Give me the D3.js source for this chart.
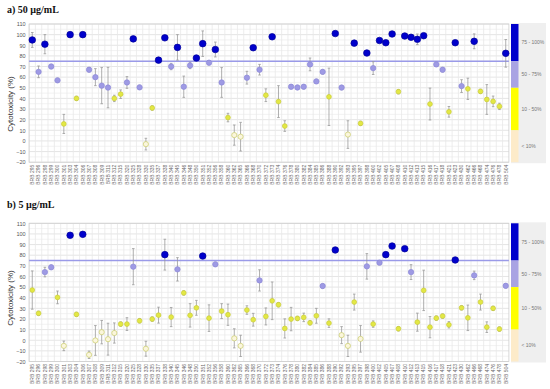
<!DOCTYPE html>
<html><head><meta charset="utf-8">
<script src="https://cdn.jsdelivr.net/npm/d3@7"></script>
<style>body{margin:0;background:#fff}svg{display:block}</style>
</head><body><div id="chart"></div>
<script>
// ---------- data ----------
const strainIds = [295,296,298,299,300,301,303,304,306,307,308,309,311,312,315,320,325,328,330,335,337,338,340,345,346,348,350,351,352,356,358,360,362,365,366,368,370,372,373,374,376,378,380,382,384,385,386,388,390,392,393,395,397,398,400,402,405,407,408,410,412,413,415,416,417,418,421,423,430,462,466,468,474,476,478,504];
const strainLabels = strainIds.map(n => "BRB " + n);

const cyto50 = [95,65,91,70,57,16,100,40,100,67,60,52,50.2,40,44,55,96,50.4,-3,31,76,97,70,88,51,71,78,91.5,73.6,86,55,22,5.5,4,59.5,87.7,67,43,98,37,14,51,50.3,51,72,56,65,41.5,101,50.2,6,92,16.5,82.7,68.5,94.5,92.4,100.6,46.3,98.7,97.5,95.6,99,34.7,72,67,27.4,92.4,51.6,49,93.7,46.6,39,37.2,32.5,82.4];
const err50  = [7,5.5,9,2,2,9,1,2,1,2,8,17,19,3,4,5.5,2,2,5.5,2,2,2,3,12,10,3,2,12,2,7,14,4,9.5,13.5,6,2,5,6,2,15,5,2,2,2,6,2,2,27,2,2,13,2,2,2,6,2,2,2,2,2,2,5,2,15,2,2,5,2,6,10,7,2,14,5,3,13];

const cyto5 = [47.2,25.3,64.1,68.6,40.3,-5.3,98.7,24.3,99.6,-13.7,-0.2,7.6,1,6.8,15.2,15.2,69.2,18.3,-8,19.9,23.6,80.5,21.8,66.7,44.5,23.4,30.5,79.2,20.8,71.4,27.4,24,1.8,-5.3,28.4,19.3,56.3,22.4,37.1,33.4,11.1,19.9,20.5,21.5,16.4,23,51,16.1,84.9,4.8,-5.3,35.9,1.3,69.5,15.2,73,80.5,88.6,10.8,86.1,64.1,17,46.9,12.3,20.8,22.7,14.5,75.5,30.5,21.1,61,35.9,12.3,30,10.5,51.2];
const err5  = [18,2,4.5,2,6,4.5,1,2,1,3.5,14,11,15,9.5,2,6,17,2,7,2,7.5,14.5,9,11,2,11,7,2,12.5,2,7,10,9,10,4,6,10,8,17.7,2,9,11,2,4,2,7,2,4,2,8,10,7.5,12.5,12,3,2,2,2,2,2,7,8.5,19,10,2,2,3,2,2,12,4,7.5,5,2,2,2];

const yTicks = d3.range(-20, 111, 10);
const threshold = 75;
const classes = [
  {name:"75 - 100%", lo:75, hi:110, fill:"#0000cc", stroke:"#00009a", band:"#0000cc", r:3.3},
  {name:"50 - 75%",  lo:50, hi:75,  fill:"#9e9ae4", stroke:"#8c88d8", band:"#a9a3e3", r:2.7},
  {name:"10 - 50%",  lo:10, hi:50,  fill:"#e3e844", stroke:"#c9cc3a", band:"#ffff00", r:2.4},
  {name:"< 10%",     lo:-20, hi:10, fill:"#fbf6dc", stroke:"#c9cc6a", band:"#fdebc9", r:2.6}
];
const panels = [
  {title:"a) 50 µg/mL", values:cyto50, errors:err50, top:24, titleY:13, ytitle:104},
  {title:"b) 5 µg/mL",  values:cyto5,  errors:err5,  top:223.3, titleY:208, ytitle:298}
];

// ---------- drawing ----------
const W = 550, H = 389;
const xLeft = 29.1, xRight = 508.9, plotH = 138.2;
const svg = d3.select("#chart").append("svg").attr("width", W).attr("height", H);

const x = d3.scaleBand().domain(strainLabels).range([xLeft, xRight]).padding(0);
function cls(v){ return v >= 75 ? classes[0] : v >= 50 ? classes[1] : v >= 10 ? classes[2] : classes[3]; }

panels.forEach(p => {
  const y = d3.scaleLinear().domain([-20, 110]).range([p.top + plotH, p.top]);
  const g = svg.append("g");

  // legend grey box + colored band
  g.append("rect").attr("x", 511).attr("y", y(110) - 1).attr("width", 35).attr("height", plotH + 2).attr("fill", "#efefef");
  classes.forEach(c => {
    g.append("rect").attr("x", 511).attr("y", y(c.hi)).attr("width", 7.5)
      .attr("height", y(c.lo) - y(c.hi)).attr("fill", c.band);
    g.append("text").attr("x", 521.5).attr("y", (y(c.lo) + y(c.hi)) / 2 + 1.8)
      .attr("font-family", "Liberation Sans, Arial, sans-serif").attr("font-size", 5)
      .attr("fill", "#777").text(c.name);
  });

  // grid
  const minor = d3.range(-20, 111, 5);
  g.append("g").selectAll("line").data(minor).join("line")
    .attr("x1", xLeft).attr("x2", xRight).attr("y1", d => y(d)).attr("y2", d => y(d))
    .attr("stroke", d => d % 10 === 0 ? "#dedede" : "#efefef").attr("stroke-width", 0.8);
  g.append("g").selectAll("line").data(strainLabels).join("line")
    .attr("x1", d => x(d)).attr("x2", d => x(d)).attr("y1", y(110)).attr("y2", y(-20))
    .attr("stroke", "#e8e8e8").attr("stroke-width", 0.8);
  g.append("rect").attr("x", xLeft).attr("y", y(110)).attr("width", xRight - xLeft).attr("height", plotH)
    .attr("fill", "none").attr("stroke", "#cfcfcf").attr("stroke-width", 0.8);

  // y axis labels
  const yAxis = d3.axisLeft(y).tickValues(yTicks).tickSize(0).tickPadding(3);
  const ya = g.append("g").attr("transform", `translate(${xLeft - 0.5},0)`).call(yAxis);
  ya.select(".domain").remove();
  ya.selectAll("text").attr("font-family", "Liberation Sans, Arial, sans-serif").attr("font-size", 5.5).attr("fill", "#555");

  // x axis labels
  const xAxis = d3.axisBottom(x).tickSize(0).tickPadding(0);
  const xa = g.append("g").attr("transform", `translate(0,${y(-20)})`).call(xAxis);
  xa.select(".domain").remove();
  xa.selectAll("text").attr("font-family", "Liberation Sans, Arial, sans-serif").attr("font-size", 5)
    .attr("fill", "#666").attr("text-anchor", "end").attr("dy", null)
    .attr("transform", "translate(1.8,2.5) rotate(-90)");

  // threshold line
  g.append("line").attr("x1", xLeft).attr("x2", xRight).attr("y1", y(threshold)).attr("y2", y(threshold))
    .attr("stroke", "#9a9ae8").attr("stroke-width", 1.4);

  const data = p.values.map((v, i) => ({label: strainLabels[i], v, e: p.errors[i]}));
  const cx = d => x(d.label) + x.bandwidth() / 2;

  // error bars
  const eb = g.append("g").attr("stroke", "#9a9a9a").attr("stroke-width", 0.8);
  data.forEach(d => {
    eb.append("line").attr("x1", cx(d)).attr("x2", cx(d)).attr("y1", y(d.v - d.e)).attr("y2", y(d.v + d.e));
    [d.v - d.e, d.v + d.e].forEach(t => eb.append("line").attr("x1", cx(d) - 1.3).attr("x2", cx(d) + 1.3).attr("y1", y(t)).attr("y2", y(t)));
  });

  // points
  g.append("g").selectAll("circle").data(data).join("circle")
    .attr("cx", cx).attr("cy", d => y(d.v)).attr("r", d => cls(d.v).r)
    .attr("fill", d => cls(d.v).fill).attr("stroke", d => cls(d.v).stroke).attr("stroke-width", 0.7);

  // titles
  svg.append("text").attr("x", 7).attr("y", p.titleY).attr("font-family", "Liberation Serif, Times New Roman, serif")
    .attr("font-weight", "bold").attr("font-size", 10).attr("fill", "#111").text(p.title);
  svg.append("text").attr("transform", `translate(13,${p.ytitle}) rotate(-90)`).attr("text-anchor", "middle")
    .attr("font-family", "Liberation Sans, Arial, sans-serif").attr("font-size", 8).attr("fill", "#333")
    .text("Cytotoxicity (%)");
});
</script></body></html>
